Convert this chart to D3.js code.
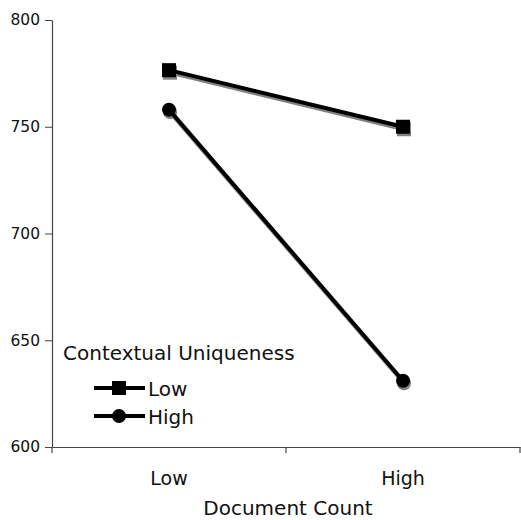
<!DOCTYPE html>
<html>
<head>
<meta charset="utf-8">
<script src="https://cdn.jsdelivr.net/npm/d3@7"></script>
<style>
  body { margin: 0; background: #fff; }
  svg { display: block; font-family: "DejaVu Sans", sans-serif; }
</style>
</head>
<body>
<svg id="chart" width="521" height="520"></svg>
<script>
const categories = ["Low", "High"];
const seriesNames = ["Low", "High"];
const lowUniqueness = [776.5, 750];
const highUniqueness = [758, 631];
const yTicks = [600, 650, 700, 750, 800];

const svg = d3.select("#chart");
const mLeft = 52, mRight = 520, mTop = 20, mBottom = 447;

const x = d3.scaleBand().domain(categories).range([mLeft, mRight]);
const y = d3.scaleLinear().domain([600, 800]).range([mBottom, mTop]);

// Y axis
const yAxis = svg.append("g")
    .attr("transform", `translate(${mLeft},0)`)
    .call(d3.axisLeft(y).tickValues(yTicks).tickSize(7).tickSizeOuter(0).tickPadding(5));
yAxis.select(".domain").attr("stroke", "#444").attr("stroke-width", 1.2);
yAxis.selectAll(".tick line").attr("stroke", "#444");
yAxis.selectAll("text").attr("font-size", 15.5).attr("font-family", "DejaVu Sans").attr("fill", "#111");

// X axis
const xAxis = svg.append("g")
    .attr("transform", `translate(0,${mBottom})`)
    .call(d3.axisBottom(x).tickSize(0).tickPadding(25));
xAxis.select(".domain").attr("stroke", "#444").attr("stroke-width", 1.2);
xAxis.selectAll("text").attr("font-size", 19).attr("font-family", "DejaVu Sans").attr("fill", "#111");
// band separators as ticks
[mLeft, mLeft + x.bandwidth(), mRight].forEach(v => {
    svg.append("line")
        .attr("x1", v).attr("x2", v)
        .attr("y1", mBottom).attr("y2", mBottom + 6)
        .attr("stroke", "#444").attr("stroke-width", 1.2);
});

svg.append("text")
    .attr("x", 288)
    .attr("y", 515)
    .attr("text-anchor", "middle")
    .attr("font-size", 20)
    .attr("fill", "#111")
    .text("Document Count");

const cx = d => x(d) + x.bandwidth() / 2;
const line = d3.line().x((d, i) => cx(categories[i])).y(d => y(d));

function drawSeries(values, shape, color, dx, dy) {
    const g = svg.append("g").attr("transform", `translate(${dx},${dy})`);
    g.append("path")
        .datum(values)
        .attr("fill", "none")
        .attr("stroke", color)
        .attr("stroke-width", 4)
        .attr("d", line);
    values.forEach((v, i) => {
        const px = cx(categories[i]), py = y(v);
        if (shape === "square") {
            g.append("rect")
                .attr("x", px - 7).attr("y", py - 7)
                .attr("width", 14).attr("height", 14)
                .attr("fill", color);
        } else {
            g.append("circle")
                .attr("cx", px).attr("cy", py).attr("r", 7)
                .attr("fill", color);
        }
    });
}

// shadows then series
drawSeries(lowUniqueness, "square", "#808080", 1, 2.5);
drawSeries(highUniqueness, "circle", "#808080", 1, 2.5);
drawSeries(lowUniqueness, "square", "#000", 0, 0);
drawSeries(highUniqueness, "circle", "#000", 0, 0);

// Legend
svg.append("text")
    .attr("x", 63).attr("y", 360)
    .attr("font-size", 20).attr("fill", "#111")
    .text("Contextual Uniqueness");

seriesNames.forEach((name, i) => {
    const ly = 388 + i * 28;
    svg.append("line")
        .attr("x1", 94).attr("x2", 145)
        .attr("y1", ly).attr("y2", ly)
        .attr("stroke", "#000").attr("stroke-width", 4);
    if (i === 0) {
        svg.append("rect").attr("x", 112).attr("y", ly - 7).attr("width", 14).attr("height", 14).attr("fill", "#000");
    } else {
        svg.append("circle").attr("cx", 119).attr("cy", ly).attr("r", 7).attr("fill", "#000");
    }
    svg.append("text")
        .attr("x", 148).attr("y", ly + 8)
        .attr("font-size", 20).attr("fill", "#111")
        .text(name);
});
</script>
</body>
</html>
